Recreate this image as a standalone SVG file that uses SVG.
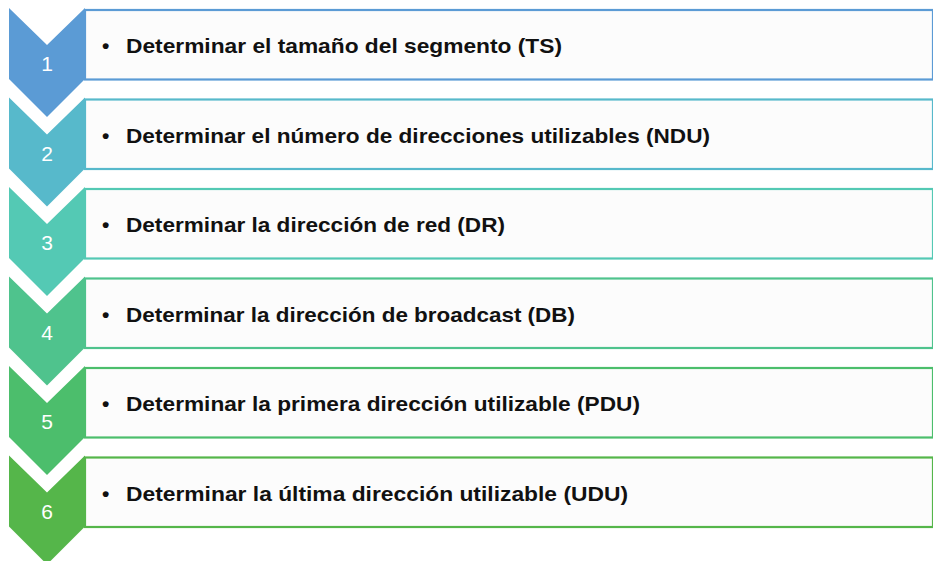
<svg xmlns="http://www.w3.org/2000/svg" width="933" height="561" viewBox="0 0 933 561">
<style>
.box{fill:#fcfcfc;stroke-width:2.2}
.num{font-family:"Liberation Sans",Arial,sans-serif;font-size:21px;fill:#ffffff;text-anchor:middle}
.lbl{font-family:"Liberation Sans",Arial,sans-serif;font-size:21px;font-weight:bold;fill:#111111}
</style>
<defs>
<path id="chev" d="M9,0 L47,37 L85,0 L85,71 L47,109 L9,71 Z"/>
</defs>
<rect width="933" height="561" fill="#ffffff"/>
<g id="step1">
<rect class="box" x="85" y="10" width="848" height="69.5" stroke="#5B9BD5"/>
<use href="#chev" transform="translate(0,8)" fill="#5B9BD5"/>
<text class="num" x="47" y="71">1</text>
<text class="lbl" x="102" y="53">•</text>
<text class="lbl" x="126" y="53" textLength="436" lengthAdjust="spacingAndGlyphs">Determinar el tamaño del segmento (TS)</text>
</g>
<g id="step2">
<rect class="box" x="85" y="99.5" width="848" height="69.5" stroke="#57B9CB"/>
<use href="#chev" transform="translate(0,97.5)" fill="#57B9CB"/>
<text class="num" x="47" y="160.5">2</text>
<text class="lbl" x="102" y="142.5">•</text>
<text class="lbl" x="126" y="142.5" textLength="584" lengthAdjust="spacingAndGlyphs">Determinar el número de direcciones utilizables (NDU)</text>
</g>
<g id="step3">
<rect class="box" x="85" y="189" width="848" height="69.5" stroke="#54C9B4"/>
<use href="#chev" transform="translate(0,187)" fill="#54C9B4"/>
<text class="num" x="47" y="250">3</text>
<text class="lbl" x="102" y="232">•</text>
<text class="lbl" x="126" y="232" textLength="379" lengthAdjust="spacingAndGlyphs">Determinar la dirección de red (DR)</text>
</g>
<g id="step4">
<rect class="box" x="85" y="278.5" width="848" height="69.5" stroke="#4FC38D"/>
<use href="#chev" transform="translate(0,276.5)" fill="#4FC38D"/>
<text class="num" x="47" y="339.5">4</text>
<text class="lbl" x="102" y="321.5">•</text>
<text class="lbl" x="126" y="321.5" textLength="449" lengthAdjust="spacingAndGlyphs">Determinar la dirección de broadcast (DB)</text>
</g>
<g id="step5">
<rect class="box" x="85" y="368" width="848" height="69.5" stroke="#4CBE6C"/>
<use href="#chev" transform="translate(0,366)" fill="#4CBE6C"/>
<text class="num" x="47" y="429">5</text>
<text class="lbl" x="102" y="411">•</text>
<text class="lbl" x="126" y="411" textLength="514" lengthAdjust="spacingAndGlyphs">Determinar la primera dirección utilizable (PDU)</text>
</g>
<g id="step6">
<rect class="box" x="85" y="457.5" width="848" height="69.5" stroke="#55B64A"/>
<use href="#chev" transform="translate(0,455.5)" fill="#55B64A"/>
<text class="num" x="47" y="518.5">6</text>
<text class="lbl" x="102" y="500.5">•</text>
<text class="lbl" x="126" y="500.5" textLength="502" lengthAdjust="spacingAndGlyphs">Determinar la última dirección utilizable (UDU)</text>
</g>
<g id="connectors"></g>
</svg>
